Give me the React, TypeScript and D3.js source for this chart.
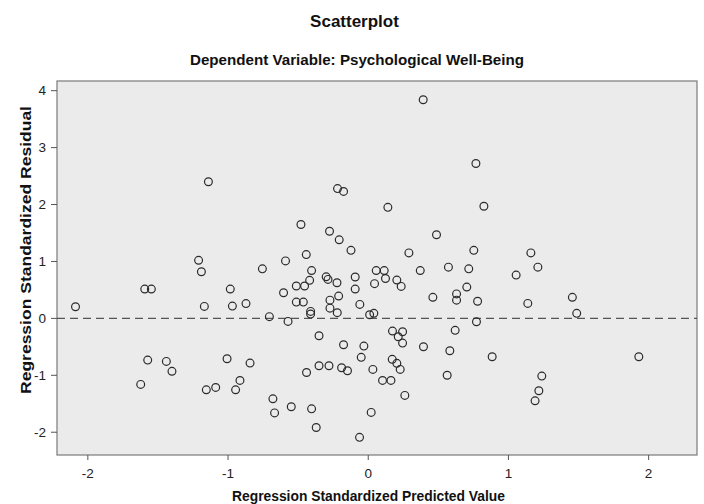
import React from 'react';
import * as d3 from 'd3';

// standardized predicted values (x) and standardized residuals (y)
const predicted = [
  -1.14, -1.21, -1.19, -0.755, 0.392, 0.768, -0.219, -0.176, 0.14, -0.48,
  0.487, -0.276, -0.207, -0.442, -0.123, -0.59, 0.29, 0.753, -0.404, 0.572,
  0.717, 0.057, 0.114, 0.371, 0.825, 1.16, 1.21, 1.055, -1.594, -1.547,
  -0.984, -2.088, -1.169, -0.969, -0.872, -0.705, -1.573, -1.44, -1.4, -1.623,
  -1.155, -1.088, -1.007, -0.843, -0.915, -0.946, -0.3, -0.287, -0.093, -0.418,
  -0.223, 0.123, 0.204, 0.235, 0.045, -0.513, -0.454, -0.604, -0.093, -0.211,
  -0.273, -0.513, -0.463, -0.06, -0.273, -0.411, -0.411, -0.221, 0.01, 0.04,
  -0.572, 0.461, 0.63, 0.63, 0.703, 0.78, 0.772, -0.351, 0.173, 0.245,
  0.214, 0.245, -0.176, -0.031, 0.394, 0.62, 0.582, -0.05, 0.171, 0.204,
  0.228, -0.351, -0.28, -0.19, -0.148, 0.033, -0.44, 0.102, 0.162, 0.563,
  0.261, -0.68, -0.668, -0.549, -0.404, 0.021, -0.371, -0.062, 1.138, 1.456,
  1.487, 0.884, 1.93, 1.238, 1.217, 1.19,
];
const residual = [
  2.4, 1.02, 0.82, 0.87, 3.84, 2.72, 2.28, 2.23, 1.95, 1.65,
  1.47, 1.53, 1.38, 1.12, 1.195, 1.01, 1.15, 1.195, 0.84, 0.9,
  0.87, 0.84, 0.84, 0.84, 1.97, 1.15, 0.9, 0.76, 0.515, 0.515,
  0.515, 0.204, 0.21, 0.216, 0.26, 0.03, -0.733, -0.756, -0.93, -1.16,
  -1.255, -1.213, -0.71, -0.786, -1.09, -1.255, 0.73, 0.685, 0.726, 0.668,
  0.626, 0.7, 0.673, 0.562, 0.61, 0.568, 0.568, 0.45, 0.515, 0.392,
  0.32, 0.286, 0.286, 0.246, 0.18, 0.123, 0.075, 0.1, 0.063, 0.088,
  -0.053, 0.37, 0.43, 0.32, 0.55, 0.3, -0.06, -0.305, -0.223, -0.235,
  -0.323, -0.434, -0.464, -0.487, -0.499, -0.21, -0.569, -0.685, -0.72, -0.79,
  -0.896, -0.833, -0.833, -0.868, -0.92, -0.896, -0.95, -1.09, -1.09, -1.0,
  -1.353, -1.413, -1.66, -1.553, -1.589, -1.652, -1.916, -2.09, 0.263, 0.37,
  0.088, -0.675, -0.675, -1.014, -1.272, -1.448,
];
const xTicks = [-2, -1, 0, 1, 2];
const yTicks = [-2, -1, 0, 1, 2, 3, 4];

const W = 704;
const H = 504;
const plot = { left: 57, right: 697, top: 81, bottom: 455 };
const font = 'Arial, "Liberation Sans", sans-serif';

export default function App() {
  const x = d3.scaleLinear().domain([-2.22, 2.345]).range([plot.left, plot.right]);
  const y = d3.scaleLinear().domain([-2.4, 4.17]).range([plot.bottom, plot.top]);

  return (
    <svg width={W} height={H} style={{ position: 'absolute', left: 0, top: 0, background: '#fff' }}>
      <text x={354.5} y={27} textAnchor="middle" fontFamily={font} fontWeight="bold" fontSize={17} fill="#111">
        Scatterplot
      </text>
      <text
        x={357}
        y={65}
        textAnchor="middle"
        fontFamily={font}
        fontWeight="bold"
        fontSize={15.5}
        textLength={334}
        lengthAdjust="spacingAndGlyphs"
        fill="#111"
      >
        Dependent Variable: Psychological Well-Being
      </text>

      <rect
        x={plot.left}
        y={plot.top}
        width={plot.right - plot.left}
        height={plot.bottom - plot.top}
        fill="#ebebeb"
        stroke="#7a7a7a"
        strokeWidth={1.2}
      />

      {/* zero reference line */}
      <line
        x1={plot.left}
        x2={plot.right}
        y1={y(0)}
        y2={y(0)}
        stroke="#555"
        strokeWidth={1.4}
        strokeDasharray="8,5"
      />

      {predicted.map((v, i) => (
        <circle key={i} cx={x(v)} cy={y(residual[i])} r={3.9} fill="none" stroke="#2a2a2a" strokeWidth={1.2} />
      ))}

      {xTicks.map((t) => (
        <g key={'x' + t}>
          <line x1={x(t)} x2={x(t)} y1={plot.bottom} y2={plot.bottom + 5} stroke="#555" />
          <text x={x(t)} y={478} textAnchor="middle" fontFamily={font} fontSize={13.5} fill="#222">
            {t}
          </text>
        </g>
      ))}
      {yTicks.map((t) => (
        <g key={'y' + t}>
          <line x1={plot.left - 6} x2={plot.left} y1={y(t)} y2={y(t)} stroke="#555" />
          <text x={46} y={y(t) + 4.5} textAnchor="end" fontFamily={font} fontSize={13.5} fill="#222">
            {t}
          </text>
        </g>
      ))}

      <text
        x={368.5}
        y={501}
        textAnchor="middle"
        fontFamily={font}
        fontWeight="bold"
        fontSize={14}
        textLength={273}
        lengthAdjust="spacingAndGlyphs"
        fill="#111"
      >
        Regression Standardized Predicted Value
      </text>
      <text
        transform="translate(31,250) rotate(-90)"
        textAnchor="middle"
        fontFamily={font}
        fontWeight="bold"
        fontSize={14.5}
        textLength={288}
        lengthAdjust="spacingAndGlyphs"
        fill="#111"
      >
        Regression Standardized Residual
      </text>
    </svg>
  );
}
